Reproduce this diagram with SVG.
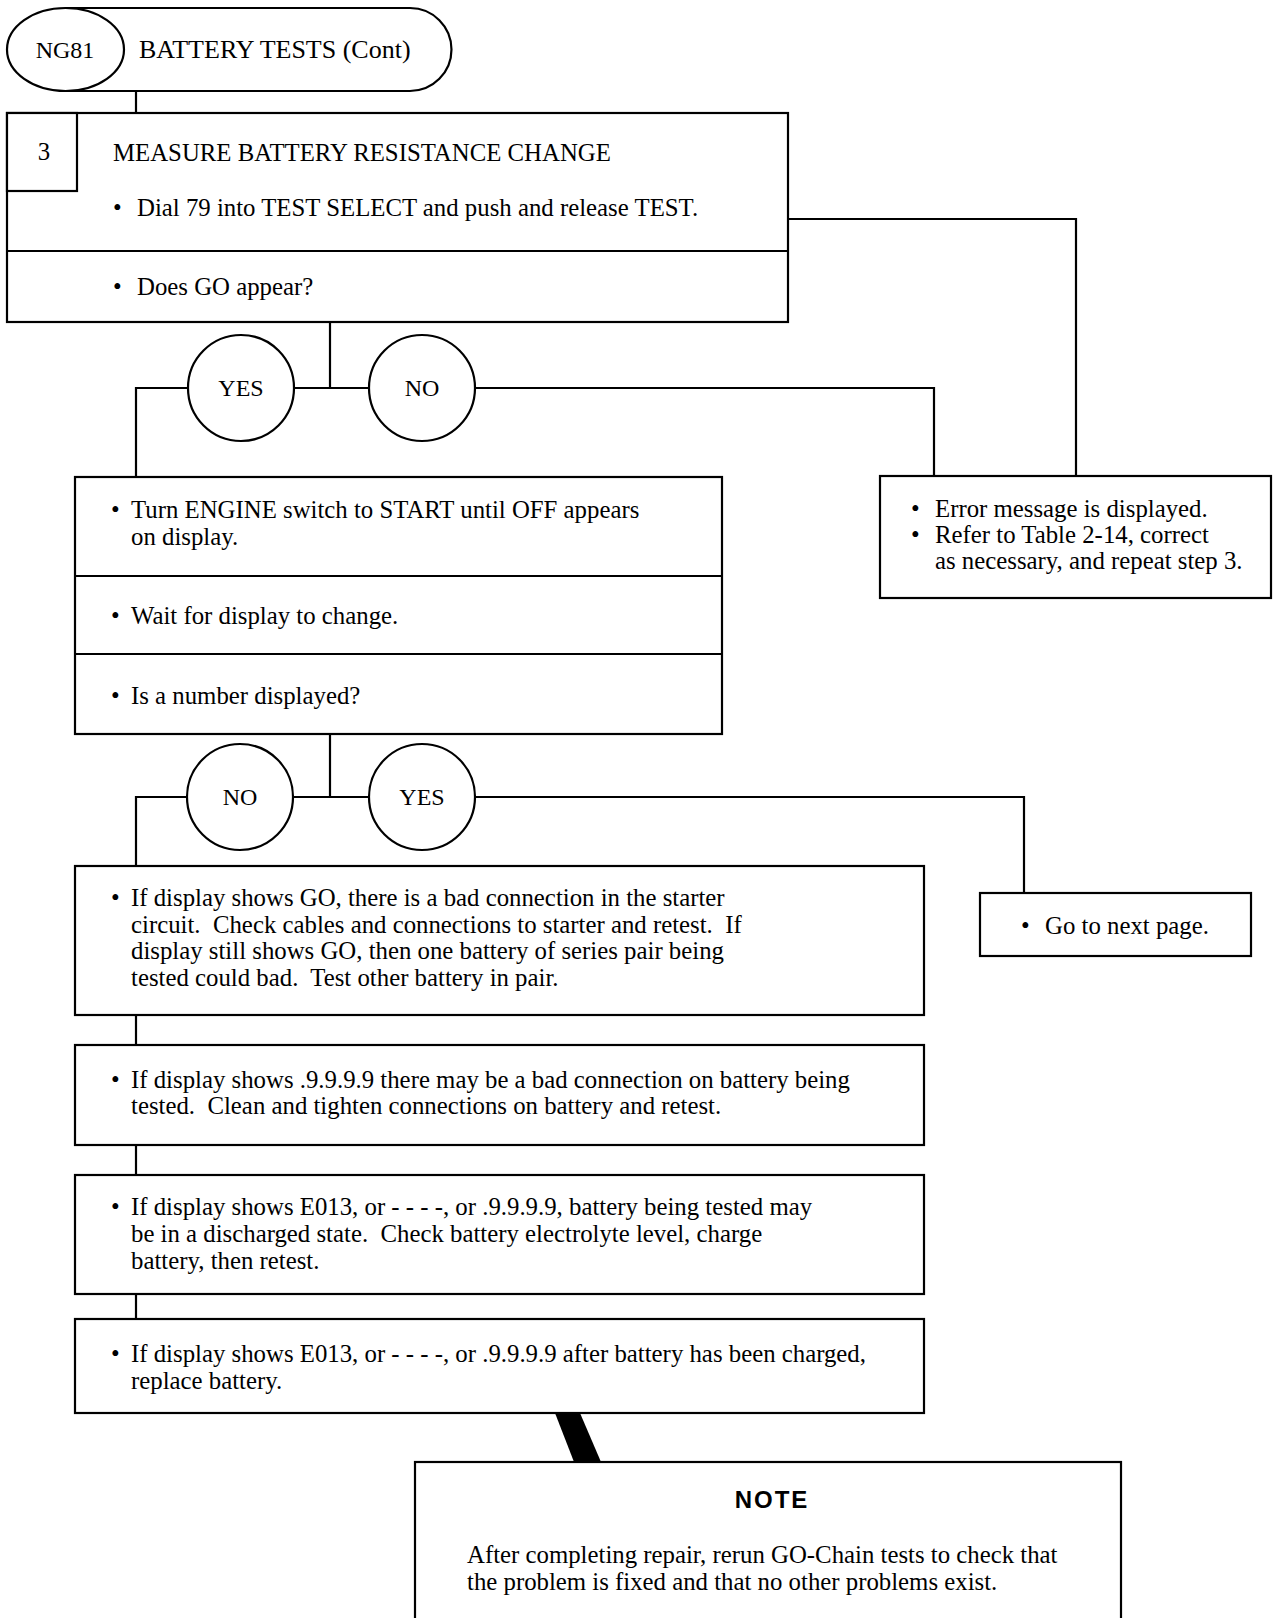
<svg xmlns="http://www.w3.org/2000/svg" width="1273" height="1618" viewBox="0 0 1273 1618">
<style>
.b{fill:#fff;stroke:#000;stroke-width:2.2}
.l{fill:none;stroke:#000;stroke-width:2.2}
text{font-family:"Liberation Serif","Times New Roman",serif;font-size:24.8px;fill:#000;white-space:pre}
.c{text-anchor:middle}
.h{font-size:26px}
.s{font-size:24px}
.n{font-family:"Liberation Sans",Arial,sans-serif;font-weight:bold;font-size:24px;letter-spacing:2px}
</style>
<rect x="0" y="0" width="1273" height="1618" fill="#fff"/>
<g id="connectors">
<line class="l" x1="136" y1="91" x2="136" y2="113"/>
<polyline class="l" points="788,219 1076,219 1076,476"/>
<line class="l" x1="330" y1="322" x2="330" y2="388"/>
<polyline class="l" points="188,388 136,388 136,477"/>
<line class="l" x1="294" y1="388" x2="369" y2="388"/>
<polyline class="l" points="475,388 934,388 934,476"/>
<line class="l" x1="330" y1="734" x2="330" y2="797"/>
<polyline class="l" points="187,797 136,797 136,866"/>
<line class="l" x1="293" y1="797" x2="369" y2="797"/>
<polyline class="l" points="475,797 1024,797 1024,893"/>
<line class="l" x1="136" y1="1015" x2="136" y2="1045"/>
<line class="l" x1="136" y1="1145" x2="136" y2="1175"/>
<line class="l" x1="136" y1="1294" x2="136" y2="1319"/>
<polygon points="555,1413 580,1413 601,1462 574,1462" fill="#000"/>
</g>
<g id="header">
<path class="b" d="M66,8 H410 A41.5,41.5 0 0 1 410,91 H66 Z"/>
<ellipse class="b" cx="65.5" cy="49.5" rx="58.5" ry="41.5"/>
<text class="c s" x="65" y="58">NG81</text>
<text class="h" x="139" y="58">BATTERY TESTS (Cont)</text>
</g>
<g id="step3">
<rect class="b" x="7" y="113" width="781" height="209"/>
<line class="l" x1="7" y1="251" x2="788" y2="251"/>
<rect class="b" x="7" y="113" width="70" height="78"/>
<text class="c" x="44" y="160">3</text>
<text x="113" y="161">MEASURE BATTERY RESISTANCE CHANGE</text>
<text x="113" y="216">•</text><text x="137" y="216">Dial 79 into TEST SELECT and push and release TEST.</text>
<text x="113" y="295">•</text><text x="137" y="295">Does GO appear?</text>
</g>
<g id="yes1">
<circle class="b" cx="241" cy="388" r="53"/>
<text class="c s" x="241" y="396">YES</text>
</g>
<g id="no1">
<circle class="b" cx="422" cy="388" r="53"/>
<text class="c s" x="422" y="396">NO</text>
</g>
<g id="error">
<rect class="b" x="880" y="476" width="391" height="122"/>
<text x="911" y="517">•</text><text x="935" y="517">Error message is displayed.</text>
<text x="911" y="543">•</text><text x="935" y="543">Refer to Table 2-14, correct</text>
<text x="935" y="569">as necessary, and repeat step 3.</text>
</g>
<g id="engine">
<rect class="b" x="75" y="477" width="647" height="257"/>
<line class="l" x1="75" y1="576" x2="722" y2="576"/>
<line class="l" x1="75" y1="654" x2="722" y2="654"/>
<text x="111" y="518">•</text><text x="131" y="518">Turn ENGINE switch to START until OFF appears</text>
<text x="131" y="545">on display.</text>
<text x="111" y="624">•</text><text x="131" y="624">Wait for display to change.</text>
<text x="111" y="704">•</text><text x="131" y="704">Is a number displayed?</text>
</g>
<g id="no2">
<circle class="b" cx="240" cy="797" r="53"/>
<text class="c s" x="240" y="805">NO</text>
</g>
<g id="yes2">
<circle class="b" cx="422" cy="797" r="53"/>
<text class="c s" x="422" y="805">YES</text>
</g>
<g id="next">
<rect class="b" x="980" y="893" width="271" height="63"/>
<text x="1021" y="934">•</text><text x="1045" y="934">Go to next page.</text>
</g>
<g id="go">
<rect class="b" x="75" y="866" width="849" height="149"/>
<text x="111" y="906">•</text><text x="131" y="906">If display shows GO, there is a bad connection in the starter</text>
<text x="131" y="933" xml:space="preserve">circuit.  Check cables and connections to starter and retest.  If</text>
<text x="131" y="959">display still shows GO, then one battery of series pair being</text>
<text x="131" y="986" xml:space="preserve">tested could bad.  Test other battery in pair.</text>
</g>
<g id="bad">
<rect class="b" x="75" y="1045" width="849" height="100"/>
<text x="111" y="1088">•</text><text x="131" y="1088">If display shows .9.9.9.9 there may be a bad connection on battery being</text>
<text x="131" y="1114" xml:space="preserve">tested.  Clean and tighten connections on battery and retest.</text>
</g>
<g id="discharged">
<rect class="b" x="75" y="1175" width="849" height="119"/>
<text x="111" y="1215">•</text><text x="131" y="1215">If display shows E013, or - - - -, or .9.9.9.9, battery being tested may</text>
<text x="131" y="1242" xml:space="preserve">be in a discharged state.  Check battery electrolyte level, charge</text>
<text x="131" y="1269">battery, then retest.</text>
</g>
<g id="replace">
<rect class="b" x="75" y="1319" width="849" height="94"/>
<text x="111" y="1362">•</text><text x="131" y="1362">If display shows E013, or - - - -, or .9.9.9.9 after battery has been charged,</text>
<text x="131" y="1389">replace battery.</text>
</g>
<g id="note">
<rect class="b" x="415" y="1462" width="706" height="170"/>
<text class="c n" x="772" y="1508">NOTE</text>
<text x="467" y="1563">After completing repair, rerun GO-Chain tests to check that</text>
<text x="467" y="1590">the problem is fixed and that no other problems exist.</text>
</g>
</svg>
